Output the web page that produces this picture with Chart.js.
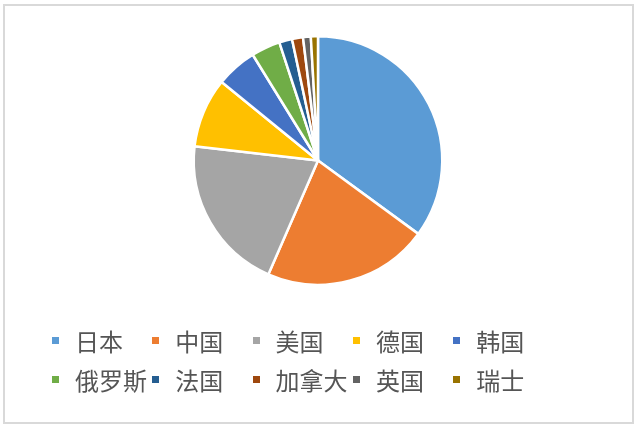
<!DOCTYPE html>
<html>
<head>
<meta charset="utf-8">
<script src="https://cdn.jsdelivr.net/npm/chart.js@4/dist/chart.umd.min.js"></script>
<style>
    html, body { margin: 0; padding: 0; background: #fff; }
    #wrap { position: relative; width: 641px; height: 427px; overflow: hidden; }
    #frame {
        position: absolute; left: 3px; top: 4px; width: 631px; height: 420px;
        box-sizing: border-box; border: 2px solid #d9d9d9;
    }
    #box { position: absolute; left: 0; top: 0; width: 641px; height: 427px; }
    #legend {
        position: absolute; left: 52px; top: 328px;
        display: grid; grid-template-columns: repeat(5, 100.3px); row-gap: 14px;
        font-family: "Noto Sans CJK SC", sans-serif; font-size: 24px; color: #555555;
    }
    #legend .item { display: flex; align-items: center; height: 25px; white-space: nowrap; }
    #legend .sw { width: 7px; height: 7px; margin-right: 16px; flex: none; }
</style>
</head>
<body>
<div id="wrap">
    <div id="frame"></div>
    <div id="box"><canvas id="pie"></canvas></div>
    <div id="legend"></div>
</div>
<script>
"use strict";

const COUNTRIES = ["日本", "中国", "美国", "德国", "韩国", "俄罗斯", "法国", "加拿大", "英国", "瑞士"];
const SHARES    = [34.9, 21.4, 20.2, 9.0, 5.3, 3.75, 1.67, 1.42, 1.0, 0.92];
const COLORS    = ["#5b9bd5", "#ed7d31", "#a5a5a5", "#ffc000", "#4472c4",
                   "#70ad47", "#255e91", "#9e480e", "#636363", "#997300"];

function renderLegend(chart) {
    const box = document.getElementById("legend");
    box.innerHTML = "";
    const ds = chart.data.datasets[0];
    chart.data.labels.forEach((name, i) => {
        const item = document.createElement("div");
        item.className = "item";
        const sw = document.createElement("span");
        sw.className = "sw";
        sw.style.background = ds.backgroundColor[i];
        item.appendChild(sw);
        item.appendChild(document.createTextNode(name));
        box.appendChild(item);
    });
}

const htmlLegend = {
    id: "htmlLegend",
    afterUpdate(chart) { renderLegend(chart); }
};

document.addEventListener("DOMContentLoaded", () => {
    const ctx = document.getElementById("pie").getContext("2d");
    new Chart(ctx, {
        type: "pie",
        data: {
            labels: COUNTRIES,
            datasets: [{
                data: SHARES,
                backgroundColor: COLORS,
                borderColor: "#ffffff",
                borderWidth: 2.5
            }]
        },
        options: {
            responsive: true, maintainAspectRatio: false, animation: false,
            layout: { padding: { top: 35, bottom: 141, left: 0, right: 5 } },
            plugins: {
                legend: { display: false },
                tooltip: { enabled: false }
            }
        },
        plugins: [htmlLegend]
    });
});
</script>
</body>
</html>
